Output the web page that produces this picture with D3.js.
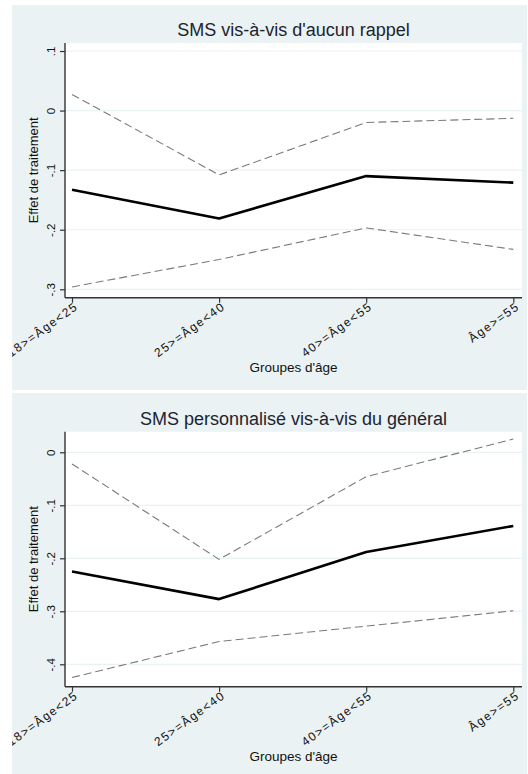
<!DOCTYPE html>
<html>
<head>
<meta charset="utf-8">
<script src="https://cdn.jsdelivr.net/npm/d3@7"></script>
<style>
  body { margin: 0; background: #fff; }
  text { font-family: "Liberation Sans", Arial, sans-serif; }
</style>
</head>
<body>
<div id="chart"></div>
<script>
// age groups on the x axis
const ageGroups = ["18>=Âge<25", "25>=Âge<40", "40>=Âge<55", "Âge>=55"];

// panel 1: SMS vs no reminder
const title1 = "SMS vis-à-vis d'aucun rappel";
const effect1 = [-0.133, -0.181, -0.110, -0.121];
const upper1 = [0.027, -0.108, -0.020, -0.013];
const lower1 = [-0.296, -0.250, -0.197, -0.233];
const ticks1 = [0.1, 0, -0.1, -0.2, -0.3];
const tickLabels1 = [".1", "0", "-.1", "-.2", "-.3"];

// panel 2: personalised vs general SMS
const title2 = "SMS personnalisé vis-à-vis du général";
const effect2 = [-0.225, -0.277, -0.188, -0.139];
const upper2 = [-0.022, -0.202, -0.046, 0.025];
const lower2 = [-0.425, -0.357, -0.328, -0.299];
const ticks2 = [0, -0.1, -0.2, -0.3, -0.4];
const tickLabels2 = ["0", "-.1", "-.2", "-.3", "-.4"];

const yTitle = "Effet de traitement";
const xTitle = "Groupes d'âge";

const width = 528, height = 774;
const bg = "#eaf2f3";

const svg = d3.select("#chart").append("svg")
    .attr("width", width)
    .attr("height", height);

function drawPanel(id, box, plot, yDom, yRange, title, ticks, tickLabels, effect, upper, lower) {
    svg.append("clipPath").attr("id", id)
        .append("rect")
        .attr("x", box.x).attr("y", box.y).attr("width", box.w).attr("height", box.h);

    const g = svg.append("g").attr("clip-path", `url(#${id})`);

    g.append("rect")
        .attr("x", box.x).attr("y", box.y).attr("width", box.w).attr("height", box.h)
        .attr("fill", bg);

    g.append("rect")
        .attr("x", plot.x0).attr("y", plot.y0)
        .attr("width", plot.x1 - plot.x0).attr("height", plot.y1 - plot.y0)
        .attr("fill", "#fff");

    const x = d3.scalePoint().domain(ageGroups).range([72, 513.3]);
    const y = d3.scaleLinear().domain(yDom).range(yRange);

    // gridlines
    g.append("g").selectAll("line").data(ticks).enter().append("line")
        .attr("x1", plot.x0).attr("x2", plot.x1)
        .attr("y1", d => y(d)).attr("y2", d => y(d))
        .attr("stroke", bg).attr("stroke-width", 1.2);

    // y axis
    const yAxis = g.append("g")
        .attr("transform", `translate(${plot.x0},0)`)
        .call(d3.axisLeft(y).tickValues(ticks).tickSize(5)
            .tickFormat((d, i) => tickLabels[i]));
    yAxis.select(".domain").remove();
    yAxis.selectAll(".tick line").attr("stroke", "#333").attr("stroke-width", 1.2);
    yAxis.selectAll(".tick text")
        .attr("transform", "rotate(-90)")
        .attr("x", 0).attr("y", -10)
        .attr("dy", 0)
        .attr("text-anchor", "middle")
        .attr("font-size", 11.5)
        .attr("fill", "#111");

    // x axis
    const xAxis = g.append("g")
        .attr("transform", `translate(0,${plot.y1})`)
        .call(d3.axisBottom(x).tickSize(5));
    xAxis.select(".domain").remove();
    xAxis.selectAll(".tick line").attr("stroke", "#333").attr("stroke-width", 1.2);
    xAxis.selectAll(".tick text")
        .attr("transform", "translate(4,7) rotate(-36)")
        .attr("x", 0).attr("y", 0).attr("dy", "0.35em")
        .attr("text-anchor", "end")
        .attr("font-size", 12)
        .attr("letter-spacing", 1.5)
        .attr("fill", "#111");

    // axis lines
    g.append("line")
        .attr("x1", plot.x0).attr("x2", plot.x0)
        .attr("y1", plot.y0).attr("y2", plot.y1)
        .attr("stroke", "#333").attr("stroke-width", 1.4);
    g.append("line")
        .attr("x1", plot.x0).attr("x2", plot.x1)
        .attr("y1", plot.y1).attr("y2", plot.y1)
        .attr("stroke", "#333").attr("stroke-width", 1.4);

    const line = d3.line()
        .x((d, i) => x(ageGroups[i]))
        .y(d => y(d));

    g.append("path").datum(upper)
        .attr("d", line).attr("fill", "none")
        .attr("stroke", "#7a7a7a").attr("stroke-width", 1.1)
        .attr("stroke-dasharray", "8,4");
    g.append("path").datum(lower)
        .attr("d", line).attr("fill", "none")
        .attr("stroke", "#7a7a7a").attr("stroke-width", 1.1)
        .attr("stroke-dasharray", "8,4");
    g.append("path").datum(effect)
        .attr("d", line).attr("fill", "none")
        .attr("stroke", "#000").attr("stroke-width", 2.6)
        .attr("stroke-linejoin", "round");

    // titles
    g.append("text")
        .attr("x", (plot.x0 + plot.x1) / 2).attr("y", plot.y0 - 7)
        .attr("text-anchor", "middle")
        .attr("font-size", 18)
        .attr("fill", "#1c2430")
        .text(title);

    g.append("text")
        .attr("transform", `translate(38,${(plot.y0 + plot.y1) / 2}) rotate(-90)`)
        .attr("text-anchor", "middle")
        .attr("font-size", 13)
        .attr("fill", "#111")
        .text(yTitle);

    g.append("text")
        .attr("x", (plot.x0 + plot.x1) / 2).attr("y", plot.y1 + 74.5)
        .attr("text-anchor", "middle")
        .attr("font-size", 13.5)
        .attr("fill", "#111")
        .text(xTitle);
}

drawPanel("clip1",
    { x: 12, y: 5, w: 515, h: 385 },
    { x0: 65, x1: 522, y0: 43, y1: 297.7 },
    [-0.3, 0.1], [289.3, 51],
    title1, ticks1, tickLabels1, effect1, upper1, lower1);

drawPanel("clip2",
    { x: 12, y: 393, w: 515, h: 381 },
    { x0: 65, x1: 522, y0: 431.7, y1: 686.7 },
    [-0.4, 0], [664.3, 452.3],
    title2, ticks2, tickLabels2, effect2, upper2, lower2);
</script>
</body>
</html>
